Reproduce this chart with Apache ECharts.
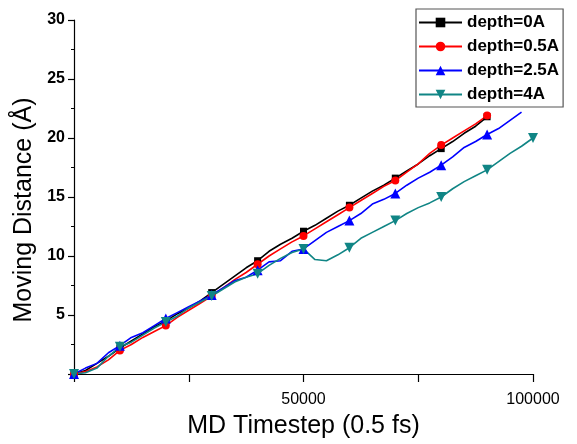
<!DOCTYPE html>
<html>
<head>
<meta charset="utf-8">
<script src="https://cdn.jsdelivr.net/npm/echarts@6/dist/echarts.min.js"></script>
<style>
html,body{margin:0;padding:0;background:#fff;}
#chart{width:577px;height:444px;}
</style>
</head>
<body>
<div id="chart"></div>
<script>
// Timesteps (every 2500 steps)
var steps = [0,2500,5000,7500,10000,12500,15000,17500,20000,22500,25000,27500,30000,32500,35000,37500,40000,42500,45000,47500,50000,52500,55000,57500,60000,62500,65000,67500,70000,72500,75000,77500,80000,82500,85000,87500,90000,92500,95000,97500,100000];

var depth0 = [0,0.3,0.9,1.5,2.2,2.8,3.4,4.0,4.5,5.1,5.6,6.2,6.9,7.6,8.3,9.0,9.6,10.4,11.0,11.5,12.1,12.6,13.2,13.8,14.3,14.9,15.5,16.0,16.6,17.2,17.8,18.5,19.1,19.7,20.4,21.0,21.8];
var depth05 = [0,0.2,0.6,1.2,2.0,2.5,3.1,3.6,4.1,4.8,5.4,6.0,6.6,7.3,8.0,8.6,9.3,10.0,10.6,11.2,11.7,12.3,12.9,13.5,14.1,14.7,15.3,15.9,16.4,17.1,17.8,18.7,19.4,20.0,20.6,21.2,21.9];
var depth25 = [0,0.5,0.9,1.8,2.4,3.1,3.5,4.1,4.7,5.2,5.7,6.2,6.7,7.3,7.9,8.2,8.8,9.5,9.6,10.4,10.6,11.3,12.0,12.5,13.0,13.6,14.4,14.8,15.3,16.0,16.6,17.1,17.7,18.4,19.2,19.7,20.3,20.8,21.5,22.2];
var depth4 = [0,0.1,0.5,1.5,2.3,2.7,3.3,3.9,4.4,4.9,5.6,6.1,6.6,7.2,7.8,8.2,8.5,9.2,9.8,10.3,10.6,9.7,9.6,10.1,10.7,11.5,12.0,12.5,13.0,13.6,14.1,14.5,15.0,15.7,16.3,16.8,17.3,18.0,18.7,19.3,20.0];

var seriesNames = ['depth=0A','depth=0.5A','depth=2.5A','depth=4A'];
var seriesColors = ['#000000','#ff0000','#0000ff','#108585'];
var xLabels = [50000,100000];
var yLabels = [5,10,15,20,25,30];

function pairs(vals){
  return vals.map(function(v,i){ return [steps[i], v]; });
}
function markSize(sz){
  return function(val, params){ return params.dataIndex % 4 === 0 ? sz : 0; };
}

var chart = echarts.init(document.getElementById('chart'), null, {renderer:'canvas'});
var baseFont = 'Arial, "Liberation Sans", sans-serif';

function mk(name, color, data, symbol, size, rot){
  return {
    name: name, type: 'line', data: pairs(data),
    symbol: symbol, symbolSize: markSize(size), symbolRotate: rot || 0,
    showAllSymbol: true,
    lineStyle: {color: color, width: 1.6},
    itemStyle: {color: color},
    animation: false
  };
}

chart.setOption({
  backgroundColor: '#ffffff',
  animation: false,
  grid: {left: 74, right: 44, top: 20, bottom: 67},
  legend: {
    orient: 'vertical', left: 416, top: 9,
    backgroundColor: '#fff', borderColor: '#555', borderWidth: 1.2,
    padding: [5, 4, 4, 2],
    itemWidth: 43, itemHeight: 12, itemGap: 7,
    textStyle: {fontFamily: baseFont, fontSize: 17, fontWeight: 'bold', color: '#000'},
    data: [
      {name: seriesNames[0]}, {name: seriesNames[1]}, {name: seriesNames[2]},
      {name: seriesNames[3], symbolRotate: 180}
    ]
  },
  xAxis: {
    type: 'value', min: 0, max: 100000, interval: 25000,
    name: 'MD Timestep (0.5 fs)', nameLocation: 'middle', nameGap: 40,
    nameTextStyle: {fontFamily: baseFont, fontSize: 25, color: '#000'},
    axisLine: {show: true, lineStyle: {color: '#000', width: 1.2}},
    axisTick: {show: true, inside: false, length: 8, lineStyle: {color: '#000', width: 1.2}},
    axisLabel: {
      margin: 18, color: '#000', fontFamily: baseFont, fontSize: 16,
      formatter: function(v){ return xLabels.indexOf(v) >= 0 ? String(v) : ''; }
    },
    splitLine: {show: false}
  },
  yAxis: {
    type: 'value', min: 0, max: 30, interval: 5,
    name: 'Moving Distance (Å)', nameLocation: 'middle', nameGap: 37,
    nameTextStyle: {fontFamily: baseFont, fontSize: 25, color: '#000', padding: [0, 26, 0, 0]},
    axisLine: {show: true, lineStyle: {color: '#000', width: 1.2}},
    axisTick: {show: true, length: 6, lineStyle: {color: '#000', width: 1.2}},
    minorTick: {show: true, splitNumber: 2, length: 3, lineStyle: {color: '#000', width: 1}},
    axisLabel: {
      margin: 9, color: '#000', fontFamily: baseFont, fontSize: 16, fontWeight: 'bold',
      formatter: function(v){ return yLabels.indexOf(v) >= 0 ? String(v) : ''; }
    },
    splitLine: {show: false}
  },
  series: [
    mk(seriesNames[0], seriesColors[0], depth0, 'rect', 7),
    mk(seriesNames[1], seriesColors[1], depth05, 'circle', 8),
    mk(seriesNames[2], seriesColors[2], depth25, 'triangle', 10),
    mk(seriesNames[3], seriesColors[3], depth4, 'triangle', 10, 180)
  ]
});
</script>
</body>
</html>
